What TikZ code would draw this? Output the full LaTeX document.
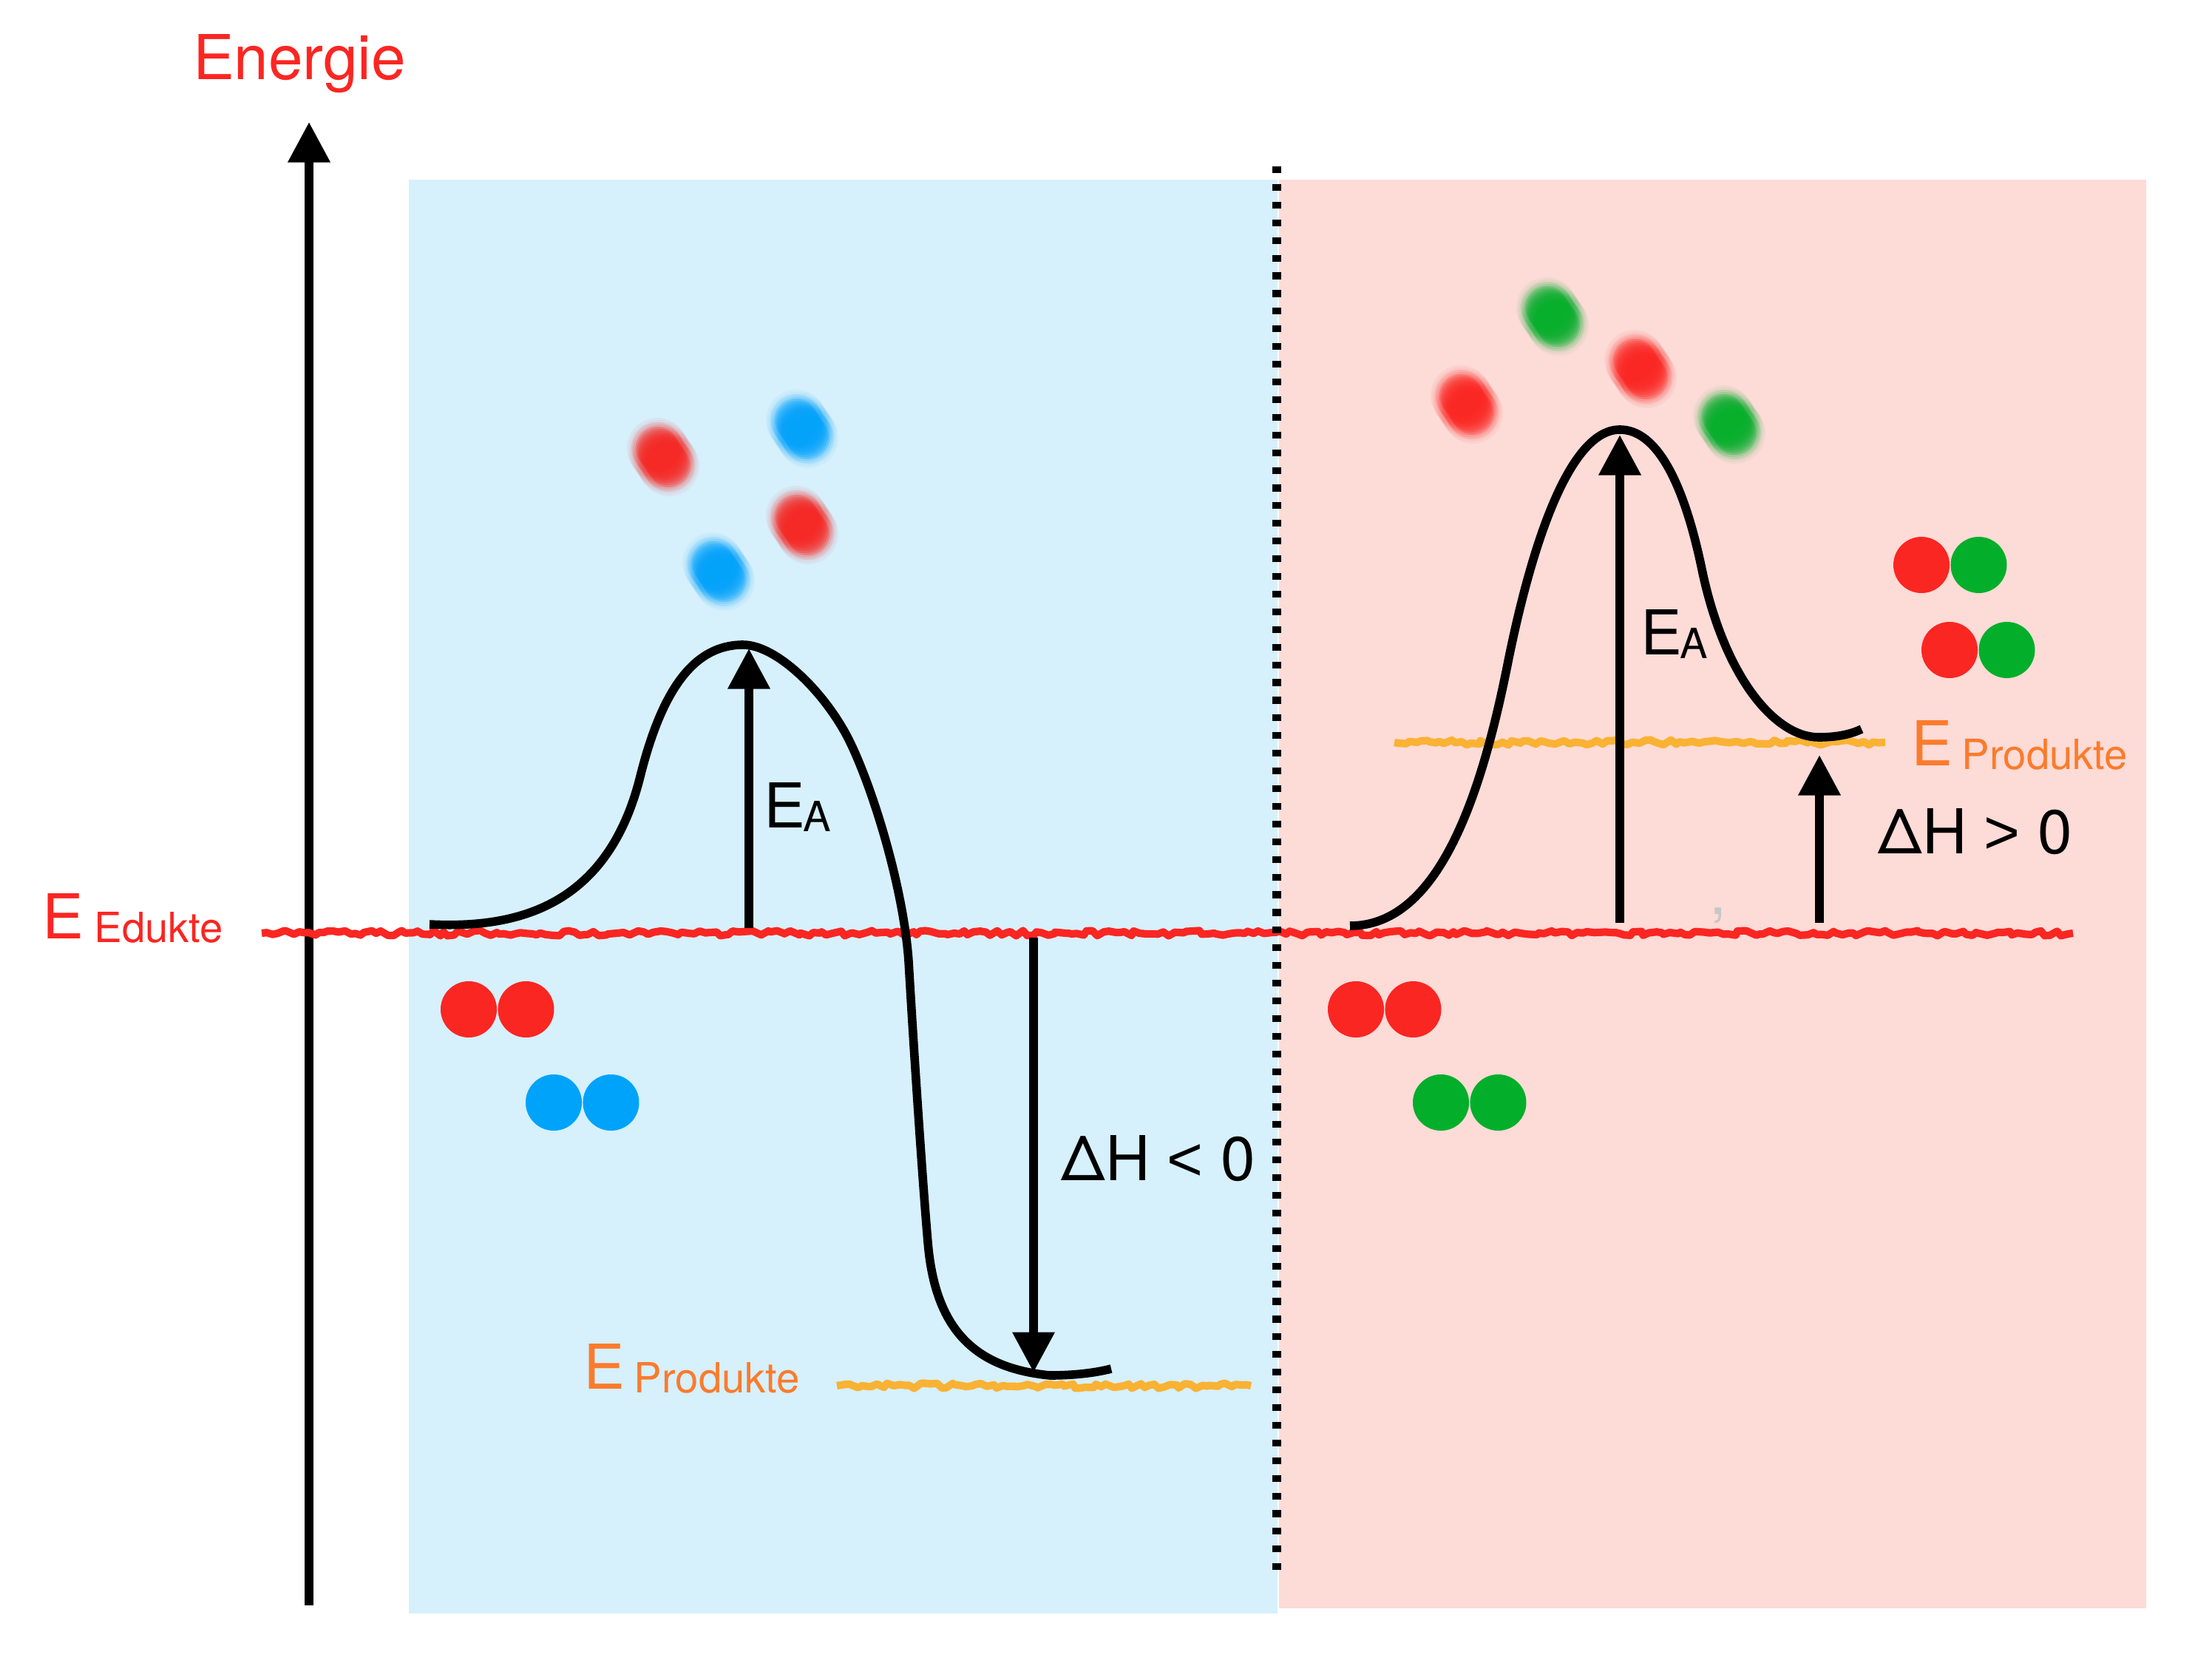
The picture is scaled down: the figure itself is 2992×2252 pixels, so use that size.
\documentclass[tikz,border=0pt]{standalone}
\usepackage{fontspec}
\setmainfont{TeX Gyre Heros}
\newfontfamily\relfont{Liberation Sans}
\usetikzlibrary{arrows.meta, positioning, decorations.pathmorphing}

\definecolor{bgblue}{HTML}{D6F0FC}
\definecolor{bgpink}{HTML}{FDDBD7}
\definecolor{molred}{HTML}{FA2622}
\definecolor{molblue}{HTML}{00A3FA}
\definecolor{molgreen}{HTML}{03AF2A}
\definecolor{txtorange}{HTML}{FB7B2C}
\definecolor{lnorange}{HTML}{F9B233}

\newcommand{\lowtxt}[1]{\raisebox{-1.5pt}{\fontsize{16}{18}\selectfont #1}}
\newcommand{\blurmol}[3]{%
  \foreach \k in {-4,...,4} {
    \fill[#1, opacity=0.05] ({#2+2*\k}, {#3+3*\k}) circle[radius=0.41cm];
    \fill[#1, opacity=0.10] ({#2+2*\k}, {#3+3*\k}) circle[radius=0.35cm];
    \fill[#1, opacity=0.20] ({#2+2*\k}, {#3+3*\k}) circle[radius=0.29cm];
  }}

\begin{document}
\begin{tikzpicture}[x=0.01cm, y=-0.01cm, >={Triangle[length=15.5pt, width=15.5pt]},
    lbl/.style={inner sep=0pt, anchor=base west, font=\fontsize{23.8}{28}\selectfont},
    arr/.style={->, line width=3.3pt},
    curve/.style={line width=3.3pt},
    atom/.style={circle, minimum size=0.76cm, inner sep=0pt},
    rough/.style={line width=2.9pt, line join=round, decorate, decoration={random steps, segment length=2pt, amplitude=1pt}}]

        \pgfmathsetseed{7}
        \useasboundingbox (0,0) rectangle (2992,2252);

        % backgrounds
        \fill[bgblue] (553,243) rectangle (1728,2182);
        \fill[bgpink] (1730,243) rectangle (2903,2175);

        % energy axis
        \coordinate (ax0) at (418,2171);
        \coordinate (ax1) at (418,165);
        \draw[arr] (ax0) -- (ax1);
        \node[lbl, molred, anchor=base] (energie) at (405,108) {Energie};

        % energy levels
        \coordinate (edL) at (354,1262);
        \coordinate (edR) at (2804,1262);
        \draw[rough, molred] (edL) -- (edR);
        \coordinate (prL0) at (1132,1874);
        \coordinate (prL1) at (1692,1874);
        \draw[rough, lnorange] (prL0) -- (prL1);
        \coordinate (prR0) at (1886,1004);
        \coordinate (prR1) at (2550,1004);
        \draw[rough, lnorange] (prR0) -- (prR1);

        \node[lbl, molred] (edukte) at (57,1269) {E\hspace{4pt}\lowtxt{Edukte}};
        \node[lbl, txtorange] (produkteL) at (789,1878) {E\hspace{3.5pt}\lowtxt{Produkte}};
        \node[lbl, txtorange] (produkteR) at (2585,1035) {E\hspace{3.5pt}\lowtxt{Produkte}};

        % separator
        \draw[line width=3.2pt, dash pattern=on 2.6pt off 4.2pt] (1727,225) -- (1727,2125);

        % exothermic curve
        \draw[curve] (581,1250) .. controls (700,1256) and (822,1226) .. (866,1050)
            .. controls (896,930) and (940,872) .. (1005,872)
            .. controls (1050,872) and (1115,935) .. (1148,1000)
            .. controls (1180,1064) and (1222,1200) .. (1229,1300)
            .. controls (1236,1420) and (1248,1600) .. (1255,1680)
            .. controls (1265,1800) and (1320,1850) .. (1420,1860)
            .. controls (1450,1860) and (1480,1857) .. (1503,1851);

        % endothermic curve
        \draw[curve] (1826,1252) .. controls (1940,1252) and (2000,1094) .. (2039,899)
            .. controls (2069,749) and (2120,581) .. (2191,581)
            .. controls (2240,581) and (2277,650) .. (2302,770)
            .. controls (2332,914) and (2400,997) .. (2460,997)
            .. controls (2485,997) and (2503,993) .. (2518,986);

        % arrows
        \coordinate (eaL0) at (1013,1255);
        \coordinate (eaL1) at (1013,877);
        \draw[arr] (eaL0) -- (eaL1);
        \coordinate (dhL0) at (1398,1268);
        \coordinate (dhL1) at (1398,1856);
        \draw[arr] (dhL0) -- (dhL1);
        \coordinate (eaR0) at (2191,1248);
        \coordinate (eaR1) at (2191,588);
        \draw[arr] (eaR0) -- (eaR1);
        \coordinate (dhR0) at (2461,1248);
        \coordinate (dhR1) at (2461,1021);
        \draw[arr] (dhR0) -- (dhR1);

        \node[lbl] (eaL) at (1033,1119) {E\kern-1pt\lowtxt{A}};
        \node[lbl] (eaR) at (2219,885) {E\kern-1pt\lowtxt{A}};
        \node[lbl] (dhL) at (1435,1596) {ΔH {\relfont <} 0};
        \node[lbl] (dhR) at (2540,1154) {ΔH {\relfont >} 0};
        \node[lbl, black!22] (comma) at (2312,1236) {,};

        % fast molecules
        \blurmol{molred}{897}{618}
        \blurmol{molblue}{1085}{580}
        \blurmol{molred}{1085}{710}
        \blurmol{molblue}{972}{773}
        \blurmol{molgreen}{2100}{428}
        \blurmol{molred}{1984}{547}
        \blurmol{molred}{2219}{499}
        \blurmol{molgreen}{2339}{574}

        % molecules
        \node[atom, fill=molred] (ra1) at (634,1365) {};
        \node[atom, fill=molred, right=0pt of ra1] (ra2) {};
        \node[atom, fill=molblue] (ba1) at (749,1491) {};
        \node[atom, fill=molblue, right=0pt of ba1] (ba2) {};

        \node[atom, fill=molred] (rb1) at (1834,1365) {};
        \node[atom, fill=molred, right=0pt of rb1] (rb2) {};
        \node[atom, fill=molgreen] (gb1) at (1949,1491) {};
        \node[atom, fill=molgreen, right=0pt of gb1] (gb2) {};

        \node[atom, fill=molred] (rc1) at (2599,764) {};
        \node[atom, fill=molgreen, right=0pt of rc1] (gc1) {};
        \node[atom, fill=molred] (rc2) at (2637,879) {};
        \node[atom, fill=molgreen, right=0pt of rc2] (gc2) {};

    \end{tikzpicture}
\end{document}
